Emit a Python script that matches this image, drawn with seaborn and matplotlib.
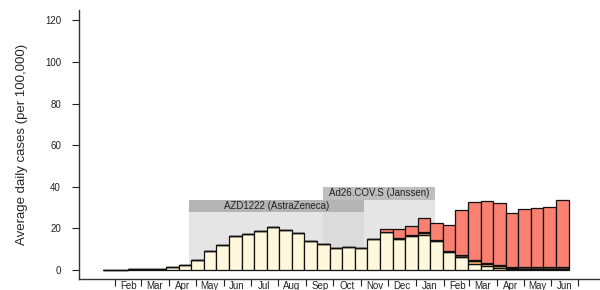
import pandas as pd
import matplotlib.pyplot as plt
import seaborn as sns

# two-week periods, the first starting 19 Jan 2020
period_start = pd.date_range('2020-01-19', periods=37, freq='14D')

# average daily cases per 100,000, stacked from the bottom up
cases_base = [0.1, 0.1, 0.15, 0.3, 0.6, 1.1, 2.4, 4.8, 9.2, 12.0, 16.1, 17.4, 18.5,
              20.8, 19.0, 17.9, 13.7, 12.4, 10.3, 10.8, 10.5, 15.0, 18.0, 15.0,
              16.4, 16.9, 14.0, 8.5, 6.3, 3.0, 2.0, 1.0, 0.6, 0.5, 0.5, 0.6, 0.6]
cases_orange = [0] * 25 + [0.9, 0, 0, 0, 1.2, 1.0, 0.8, 0.1, 0, 0, 0, 0]
cases_dark = [0] * 22 + [0.2, 0.3, 0.3, 0.3, 0.4, 0.4, 0.6, 0.4, 0.4, 0.4,
                         0.6, 0.6, 0.6, 0.5, 0.5]
cases_red = [0] * 22 + [1.3, 4.2, 4.4, 6.7, 8.3, 12.8, 21.8, 28.2, 29.6, 29.8,
                        25.9, 28.0, 28.7, 29.2, 32.6]

# vaccine trial periods
trial_names = ['AZD1222 (AstraZeneca)', 'Ad26.COV.S (Janssen)']
trial_start = pd.to_datetime(['2020-04-23', '2020-09-20'])
trial_end = pd.to_datetime(['2020-11-04', '2021-01-22'])
trial_top = [28.0, 33.8]
header_h = 5.8

month_ticks = pd.date_range('2020-02-01', '2021-07-01', freq='MS')
month_labels = ['Feb', 'Mar', 'Apr', 'May', 'Jun', 'Jul', 'Aug', 'Sep', 'Oct', 'Nov',
                'Dec', 'Jan', 'Feb', 'Mar', 'Apr', 'May', 'Jun']

sns.set_theme(style='ticks')
plt.rcParams['font.family'] = ['Liberation Sans', 'DejaVu Sans']

fig = plt.figure(figsize=(6, 2.9), dpi=100)
ax = fig.add_axes([0.1317, 0.039, 0.8683, 0.9265])

# shaded trial periods
span = [(e - s).days for s, e in zip(trial_start, trial_end)]
for s, w, top in zip(trial_start, span, trial_top):
    ax.bar(s, top, width=w, align='edge', color='#e5e5e5', linewidth=0, zorder=0)
ov_start = max(trial_start)
ov_end = min(trial_end)
ax.bar(ov_start, min(trial_top), width=(ov_end - ov_start).days, align='edge',
       color='#dbdbdb', linewidth=0, zorder=0.5)
header_cols = ['#b4b4b4', '#bebebe']
for name, s, w, top, c in zip(trial_names, trial_start, span, trial_top, header_cols):
    ax.bar(s, header_h, width=w, bottom=top, align='edge', color=c, linewidth=0, zorder=1)
    ax.text(s + pd.Timedelta(days=w / 2), top + header_h / 2, name, ha='center',
            va='center', fontsize=7, color='#222222', zorder=2)

# stacked bars
bottom = [0] * len(period_start)
for vals, col in zip([cases_base, cases_orange, cases_dark, cases_red],
                     ['#fff8dc', '#f6b26b', '#5b4636', '#fa8072']):
    ax.bar(period_start, vals, width=14, bottom=bottom, align='edge', color=col,
           edgecolor='#111111', linewidth=0.9, zorder=3)
    bottom = [b + v for b, v in zip(bottom, vals)]

ax.set_xlim(pd.Timestamp('2019-12-23'), pd.Timestamp('2021-07-25'))
ax.set_ylim(-4.3, 125)
ax.set_yticks(range(0, 121, 20))
ax.tick_params(axis='y', labelsize=7, length=5, width=0.8, pad=8, colors='#222222')

ax.set_xticks(month_ticks)
ax.set_xticklabels([])
ax.set_xticks(month_ticks[:-1] + pd.Timedelta(days=15), minor=True)
ax.set_xticklabels(month_labels, minor=True)
ax.tick_params(axis='x', which='major', length=5, width=0.8, direction='out', colors='#222222')
ax.tick_params(axis='x', which='minor', length=0, pad=1.5, labelsize=7, colors='#222222')

ax.set_ylabel('Average daily cases (per 100,000)', fontsize=9.5, labelpad=12)
sns.despine(ax=ax)
for sp in ['left', 'bottom']:
    ax.spines[sp].set_color('#333333')
    ax.spines[sp].set_linewidth(1.0)

fig.savefig('out.png', dpi=100)
